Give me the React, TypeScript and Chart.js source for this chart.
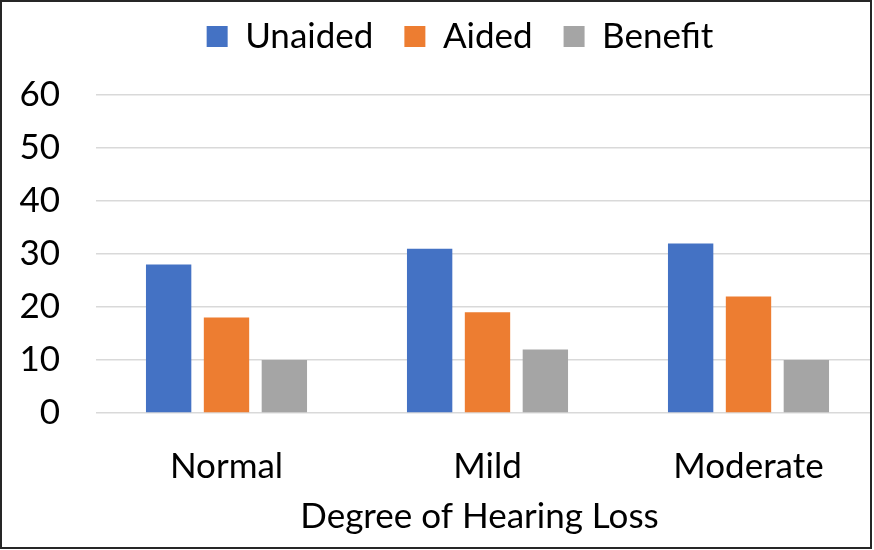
import React, { useEffect, useRef } from "react";
import { Chart, registerables } from "chart.js";

Chart.register(...registerables);

const categories = ["Normal", "Mild", "Moderate"];
const unaided = [28, 31, 32];
const aided = [18, 19, 22];
const benefit = [10, 12, 10];
const yTicks = [0, 10, 20, 30, 40, 50, 60];

const FONT = "Lato, 'Open Sans', sans-serif";
const TEXT = "#000000";
const X_TITLE_SHIFT = -8;

// Adds room below the legend row, centres the row, and nudges the x-axis title.
const layoutTweaks = {
  id: "layoutTweaks",
  beforeInit(chart: any) {
    const legend = chart.legend;
    if (!legend) return;
    const fit = legend.fit;
    legend.fit = function (this: any) {
      fit.call(this);
      this.height += 31;
    };
  },
  afterLayout(chart: any) {
    const legend = chart.legend;
    if (legend) {
      legend.left = 40;
      legend.right = 880;
    }
    const xScale = chart.scales.x;
    if (xScale && !xScale._titleShifted) {
      const drawTitle = xScale.drawTitle;
      xScale.drawTitle = function (this: any, ...args: any[]) {
        const ctx = this.ctx;
        ctx.save();
        ctx.translate(X_TITLE_SHIFT, 0);
        drawTitle.apply(this, args);
        ctx.restore();
      };
      xScale._titleShifted = true;
    }
  },
};

export default function App() {
  const canvasRef = useRef<HTMLCanvasElement | null>(null);

  useEffect(() => {
    document.body.style.margin = "0";
    const canvas = canvasRef.current;
    if (!canvas) return;
    const chart = new Chart(canvas, {
      type: "bar",
      data: {
        labels: categories,
        datasets: [
          { label: "Unaided", data: unaided, backgroundColor: "#4472C4" },
          { label: "Aided", data: aided, backgroundColor: "#ED7D31" },
          { label: "Benefit", data: benefit, backgroundColor: "#A5A5A5" },
        ],
      },
      plugins: [layoutTweaks],
      options: {
        responsive: false,
        animation: false,
        devicePixelRatio: 1,
        layout: { padding: { top: -12, right: 1, left: 0, bottom: 0 } },
        datasets: {
          bar: { barPercentage: 0.784, categoryPercentage: 0.665 },
        },
        plugins: {
          tooltip: { enabled: false },
          legend: {
            position: "top",
            labels: {
              boxWidth: 21,
              boxHeight: 21,
              padding: 31,
              color: TEXT,
              font: { family: FONT, size: 35 },
            },
          },
        },
        scales: {
          x: {
            grid: { display: false },
            border: { display: false },
            ticks: {
              color: TEXT,
              padding: 25,
              font: { family: FONT, size: 35 },
            },
            title: {
              display: true,
              text: "Degree of Hearing Loss",
              color: TEXT,
              font: { family: FONT, size: 35 },
              padding: { top: 0, bottom: 12 },
            },
            afterFit: (axis: any) => {
              axis.height = 137;
            },
          },
          y: {
            min: 0,
            max: 60,
            afterBuildTicks: (axis: any) => {
              axis.ticks = yTicks.map((v) => ({ value: v }));
            },
            grid: { color: "#D9D9D9", lineWidth: 1.5, drawTicks: false },
            border: { display: false },
            ticks: {
              color: TEXT,
              padding: 36,
              font: { family: FONT, size: 35 },
            },
            afterFit: (axis: any) => {
              axis.width = 96;
            },
          },
        },
      },
    });
    return () => chart.destroy();
  }, []);

  return (
    <div style={{ position: "relative", width: 874, height: 550, background: "#fff" }}>
      <div style={{ position: "absolute", left: 0, top: 0, width: 872, height: 549, overflow: "hidden" }}>
        <canvas ref={canvasRef} width={880} height={550} style={{ display: "block" }} />
      </div>
      <div
        style={{
          position: "absolute",
          left: 0,
          top: 0,
          width: 872,
          height: 549,
          boxSizing: "border-box",
          border: "2px solid #262626",
          pointerEvents: "none",
        }}
      />
    </div>
  );
}
